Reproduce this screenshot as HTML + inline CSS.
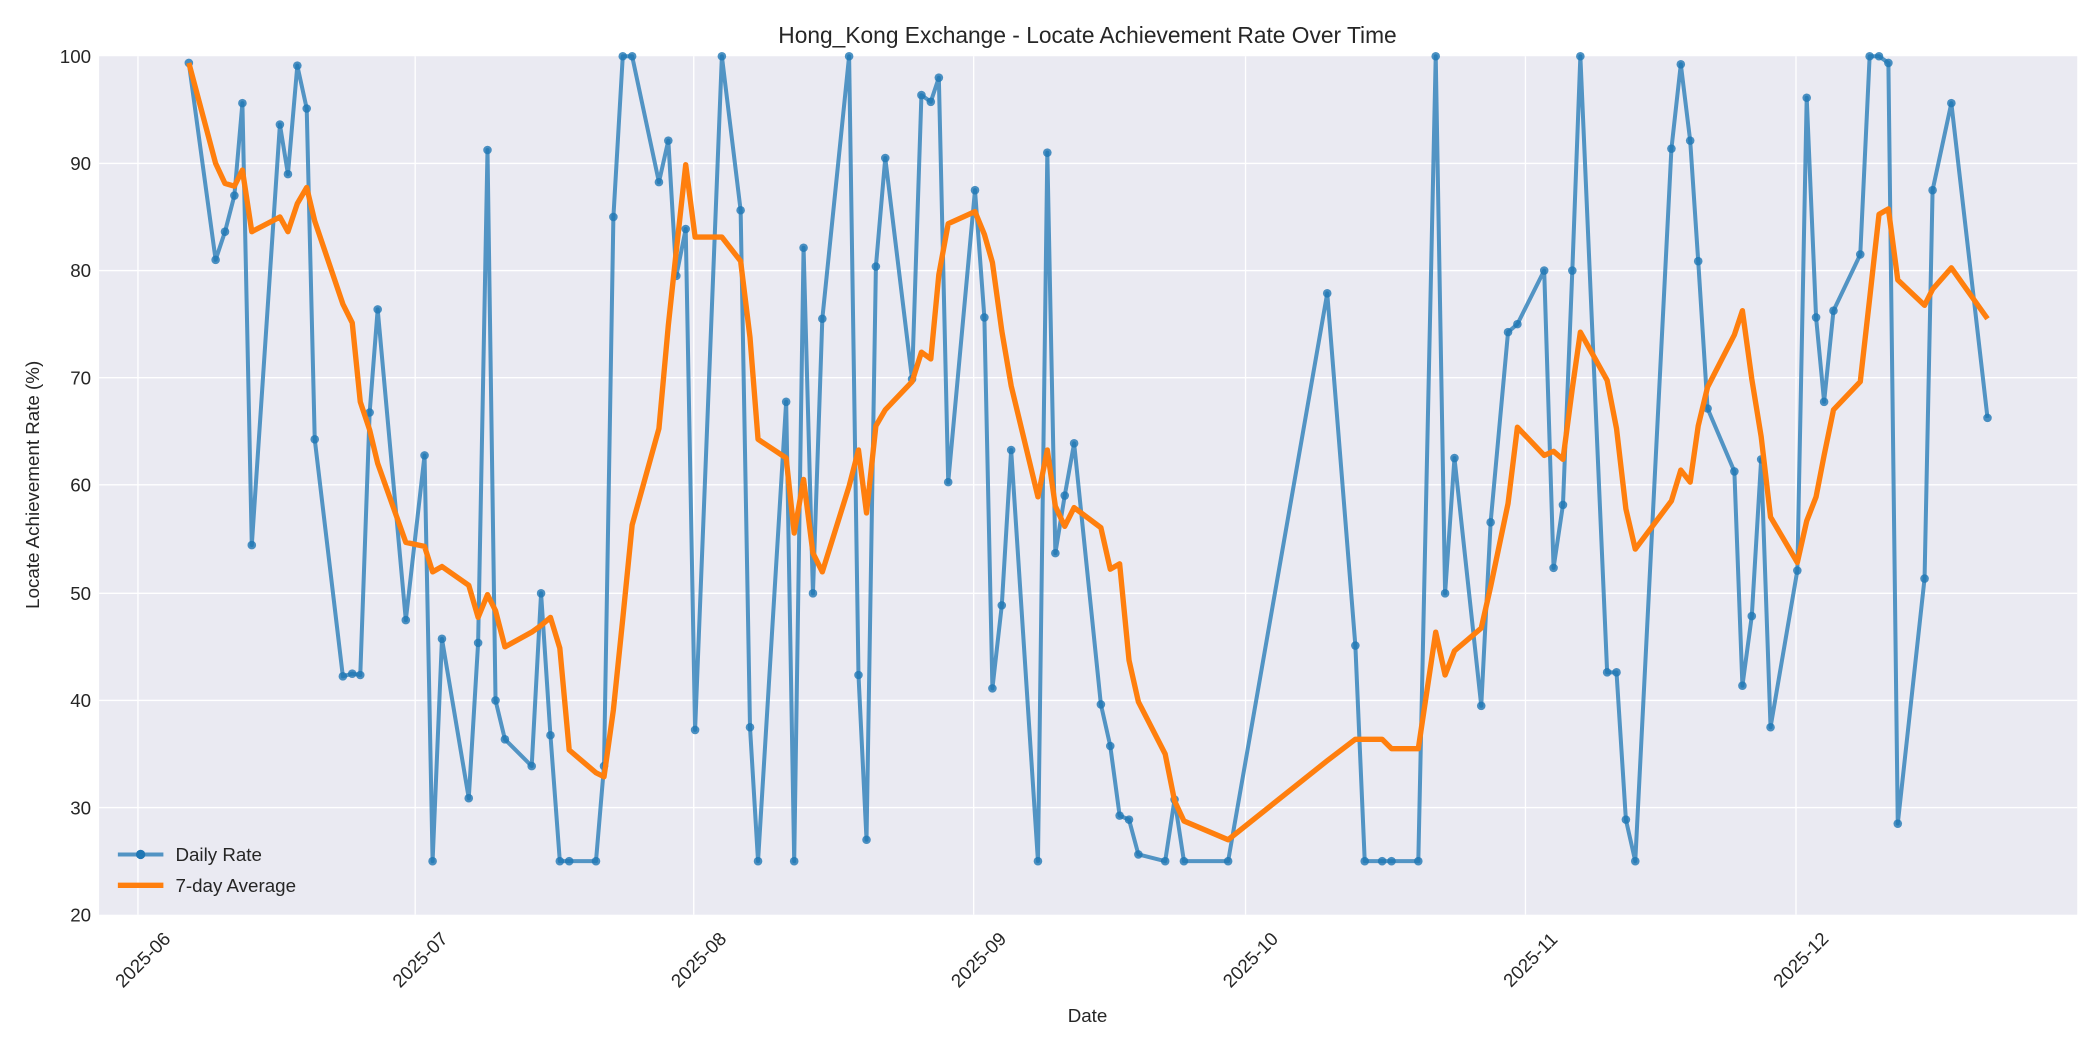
<!DOCTYPE html>
<html><head><meta charset="utf-8"><style>
html,body{margin:0;padding:0;background:#fff;}
svg{display:block;font-family:"Liberation Sans","DejaVu Sans",sans-serif;}
</style></head><body>
<svg width="2100" height="1050" viewBox="0 0 1568 784" xmlns="http://www.w3.org/2000/svg">
<rect width="1568" height="784" fill="#fff"/>
<rect x="74" y="42" width="1477" height="641" fill="#eaeaf2"/>
<g stroke="#fff" stroke-width="1">
<line x1="74" x2="1551" y1="122" y2="122"/><line x1="74" x2="1551" y1="202" y2="202"/>
<line x1="74" x2="1551" y1="282" y2="282"/><line x1="74" x2="1551" y1="362" y2="362"/>
<line x1="74" x2="1551" y1="443" y2="443"/><line x1="74" x2="1551" y1="523" y2="523"/>
<line x1="74" x2="1551" y1="603" y2="603"/>
<line x1="103" x2="103" y1="42" y2="683"/><line x1="310" x2="310" y1="42" y2="683"/>
<line x1="518" x2="518" y1="42" y2="683"/><line x1="727" x2="727" y1="42" y2="683"/>
<line x1="930" x2="930" y1="42" y2="683"/><line x1="1139" x2="1139" y1="42" y2="683"/>
<line x1="1341" x2="1341" y1="42" y2="683"/>
</g>
<g font-size="14" fill="#262626" text-anchor="end">
<text x="68" y="47">100</text><text x="68" y="127">90</text><text x="68" y="207">80</text>
<text x="68" y="287">70</text><text x="68" y="367">60</text><text x="68" y="448">50</text>
<text x="68" y="528">40</text><text x="68" y="608">30</text><text x="68" y="688">20</text>
</g>
<g font-size="14" fill="#262626" text-anchor="middle">
<text transform="translate(110,720) rotate(-45)">2025-06</text>
<text transform="translate(317,720) rotate(-45)">2025-07</text>
<text transform="translate(525,720) rotate(-45)">2025-08</text>
<text transform="translate(734,720) rotate(-45)">2025-09</text>
<text transform="translate(937,720) rotate(-45)">2025-10</text>
<text transform="translate(1146,720) rotate(-45)">2025-11</text>
<text transform="translate(1348,720) rotate(-45)">2025-12</text>
</g>
<text x="812" y="763" font-size="14" fill="#262626" text-anchor="middle">Date</text>
<text transform="translate(29,362) rotate(-90)" font-size="14" fill="#262626" text-anchor="middle">Locate Achievement Rate (%)</text>
<text x="812" y="32" font-size="17" fill="#262626" text-anchor="middle">Hong_Kong Exchange - Locate Achievement Rate Over Time</text>
<defs><clipPath id="c"><rect x="74" y="38" width="1477" height="650"/></clipPath></defs>
<g clip-path="url(#c)">
<polyline fill="none" stroke="#1f77b4" stroke-opacity="0.75" stroke-width="3" stroke-linejoin="round" points="141,47 161,194 168,173 175,146 181,77 188,407 209,93 215,130 222,49 229,81 235,328 256,505 263,503 269,504 276,308 282,231 303,463 317,340 323,643 330,477 350,596 357,480 364,112 370,523 377,552 397,572 404,443 411,549 418,643 425,643 445,643 451,572 458,162 465,42 472,42 492,136 499,105 505,206 512,171 519,545 539,42 553,157 560,543 566,643 587,300 593,643 600,185 607,443 614,238 634,42 641,504 647,627 654,199 661,118 681,283 688,71 695,76 701,58 708,360 728,142 735,237 741,514 748,452 755,336 775,643 782,114 788,413 795,370 802,331 822,526 829,557 836,609 843,612 850,638 870,643 877,597 884,643 917,643 991,219 1012,482 1019,643 1032,643 1039,643 1059,643 1072,42 1079,443 1086,342 1106,527 1113,390 1126,248 1133,242 1153,202 1160,424 1167,377 1174,202 1180,42 1200,502 1207,502 1214,612 1221,643 1248,111 1255,48 1262,105 1268,195 1275,305 1295,352 1301,512 1308,460 1315,343 1322,543 1342,426 1349,73 1356,237 1362,300 1369,232 1389,190 1396,42 1403,42 1410,47 1417,615 1437,432 1443,142 1457,77 1484,312"/>
<g fill="#1f77b4" fill-opacity="0.8">
<circle cx="141" cy="47" r="3.2"/><circle cx="161" cy="194" r="3.2"/><circle cx="168" cy="173" r="3.2"/><circle cx="175" cy="146" r="3.2"/><circle cx="181" cy="77" r="3.2"/><circle cx="188" cy="407" r="3.2"/><circle cx="209" cy="93" r="3.2"/><circle cx="215" cy="130" r="3.2"/><circle cx="222" cy="49" r="3.2"/><circle cx="229" cy="81" r="3.2"/><circle cx="235" cy="328" r="3.2"/><circle cx="256" cy="505" r="3.2"/><circle cx="263" cy="503" r="3.2"/><circle cx="269" cy="504" r="3.2"/><circle cx="276" cy="308" r="3.2"/><circle cx="282" cy="231" r="3.2"/><circle cx="303" cy="463" r="3.2"/><circle cx="317" cy="340" r="3.2"/><circle cx="323" cy="643" r="3.2"/><circle cx="330" cy="477" r="3.2"/><circle cx="350" cy="596" r="3.2"/><circle cx="357" cy="480" r="3.2"/><circle cx="364" cy="112" r="3.2"/><circle cx="370" cy="523" r="3.2"/><circle cx="377" cy="552" r="3.2"/><circle cx="397" cy="572" r="3.2"/><circle cx="404" cy="443" r="3.2"/><circle cx="411" cy="549" r="3.2"/><circle cx="418" cy="643" r="3.2"/><circle cx="425" cy="643" r="3.2"/><circle cx="445" cy="643" r="3.2"/><circle cx="451" cy="572" r="3.2"/><circle cx="458" cy="162" r="3.2"/><circle cx="465" cy="42" r="3.2"/><circle cx="472" cy="42" r="3.2"/><circle cx="492" cy="136" r="3.2"/><circle cx="499" cy="105" r="3.2"/><circle cx="505" cy="206" r="3.2"/><circle cx="512" cy="171" r="3.2"/><circle cx="519" cy="545" r="3.2"/><circle cx="539" cy="42" r="3.2"/><circle cx="553" cy="157" r="3.2"/><circle cx="560" cy="543" r="3.2"/><circle cx="566" cy="643" r="3.2"/><circle cx="587" cy="300" r="3.2"/><circle cx="593" cy="643" r="3.2"/><circle cx="600" cy="185" r="3.2"/><circle cx="607" cy="443" r="3.2"/><circle cx="614" cy="238" r="3.2"/><circle cx="634" cy="42" r="3.2"/><circle cx="641" cy="504" r="3.2"/><circle cx="647" cy="627" r="3.2"/><circle cx="654" cy="199" r="3.2"/><circle cx="661" cy="118" r="3.2"/><circle cx="681" cy="283" r="3.2"/><circle cx="688" cy="71" r="3.2"/><circle cx="695" cy="76" r="3.2"/><circle cx="701" cy="58" r="3.2"/><circle cx="708" cy="360" r="3.2"/><circle cx="728" cy="142" r="3.2"/><circle cx="735" cy="237" r="3.2"/><circle cx="741" cy="514" r="3.2"/><circle cx="748" cy="452" r="3.2"/><circle cx="755" cy="336" r="3.2"/><circle cx="775" cy="643" r="3.2"/><circle cx="782" cy="114" r="3.2"/><circle cx="788" cy="413" r="3.2"/><circle cx="795" cy="370" r="3.2"/><circle cx="802" cy="331" r="3.2"/><circle cx="822" cy="526" r="3.2"/><circle cx="829" cy="557" r="3.2"/><circle cx="836" cy="609" r="3.2"/><circle cx="843" cy="612" r="3.2"/><circle cx="850" cy="638" r="3.2"/><circle cx="870" cy="643" r="3.2"/><circle cx="877" cy="597" r="3.2"/><circle cx="884" cy="643" r="3.2"/><circle cx="917" cy="643" r="3.2"/><circle cx="991" cy="219" r="3.2"/><circle cx="1012" cy="482" r="3.2"/><circle cx="1019" cy="643" r="3.2"/><circle cx="1032" cy="643" r="3.2"/><circle cx="1039" cy="643" r="3.2"/><circle cx="1059" cy="643" r="3.2"/><circle cx="1072" cy="42" r="3.2"/><circle cx="1079" cy="443" r="3.2"/><circle cx="1086" cy="342" r="3.2"/><circle cx="1106" cy="527" r="3.2"/><circle cx="1113" cy="390" r="3.2"/><circle cx="1126" cy="248" r="3.2"/><circle cx="1133" cy="242" r="3.2"/><circle cx="1153" cy="202" r="3.2"/><circle cx="1160" cy="424" r="3.2"/><circle cx="1167" cy="377" r="3.2"/><circle cx="1174" cy="202" r="3.2"/><circle cx="1180" cy="42" r="3.2"/><circle cx="1200" cy="502" r="3.2"/><circle cx="1207" cy="502" r="3.2"/><circle cx="1214" cy="612" r="3.2"/><circle cx="1221" cy="643" r="3.2"/><circle cx="1248" cy="111" r="3.2"/><circle cx="1255" cy="48" r="3.2"/><circle cx="1262" cy="105" r="3.2"/><circle cx="1268" cy="195" r="3.2"/><circle cx="1275" cy="305" r="3.2"/><circle cx="1295" cy="352" r="3.2"/><circle cx="1301" cy="512" r="3.2"/><circle cx="1308" cy="460" r="3.2"/><circle cx="1315" cy="343" r="3.2"/><circle cx="1322" cy="543" r="3.2"/><circle cx="1342" cy="426" r="3.2"/><circle cx="1349" cy="73" r="3.2"/><circle cx="1356" cy="237" r="3.2"/><circle cx="1362" cy="300" r="3.2"/><circle cx="1369" cy="232" r="3.2"/><circle cx="1389" cy="190" r="3.2"/><circle cx="1396" cy="42" r="3.2"/><circle cx="1403" cy="42" r="3.2"/><circle cx="1410" cy="47" r="3.2"/><circle cx="1417" cy="615" r="3.2"/><circle cx="1437" cy="432" r="3.2"/><circle cx="1443" cy="142" r="3.2"/><circle cx="1457" cy="77" r="3.2"/><circle cx="1484" cy="312" r="3.2"/>
</g>
<polyline fill="none" stroke="#ff7f0e" stroke-width="4" stroke-linejoin="round" points="141,47 161,122 168,137 175,139 181,127 188,173 209,162 215,173 222,152 229,140 235,165 256,227 263,241 269,300 276,321 282,346 303,405 317,408 323,427 330,423 350,437 357,461 364,444 370,456 377,483 397,472 404,467 411,461 418,484 425,560 445,577 451,580 458,530 465,462 472,392 492,320 499,243 505,187 512,123 519,177 539,177 553,195 560,252 566,328 587,342 593,398 600,358 607,413 614,427 634,363 641,336 647,383 654,318 661,306 681,285 688,263 695,268 701,205 708,167 728,158 735,175 741,196 748,247 755,288 775,371 782,336 788,378 795,393 802,379 822,394 829,425 836,421 843,493 850,524 870,563 877,598 884,613 917,627 991,568 1012,552 1019,552 1032,552 1039,559 1059,559 1072,472 1079,504 1086,486 1106,469 1113,438 1126,376 1133,319 1153,340 1160,337 1167,343 1174,290 1180,248 1200,284 1207,320 1214,380 1221,410 1248,374 1255,351 1262,360 1268,318 1275,289 1295,250 1301,232 1308,283 1315,326 1322,386 1342,420 1349,389 1356,371 1362,340 1369,306 1389,285 1396,223 1403,160 1410,156 1417,209 1437,228 1443,216 1457,200 1484,238"/>
</g>
<line x1="88" x2="122" y1="638" y2="638" stroke="#1f77b4" stroke-opacity="0.75" stroke-width="3"/>
<circle cx="105" cy="638" r="3.5" fill="#1f77b4"/>
<text x="131" y="643" font-size="14" fill="#262626">Daily Rate</text>
<line x1="88" x2="122" y1="661" y2="661" stroke="#ff7f0e" stroke-width="4"/>
<text x="131" y="666" font-size="14" fill="#262626">7-day Average</text>
</svg>
</body></html>
